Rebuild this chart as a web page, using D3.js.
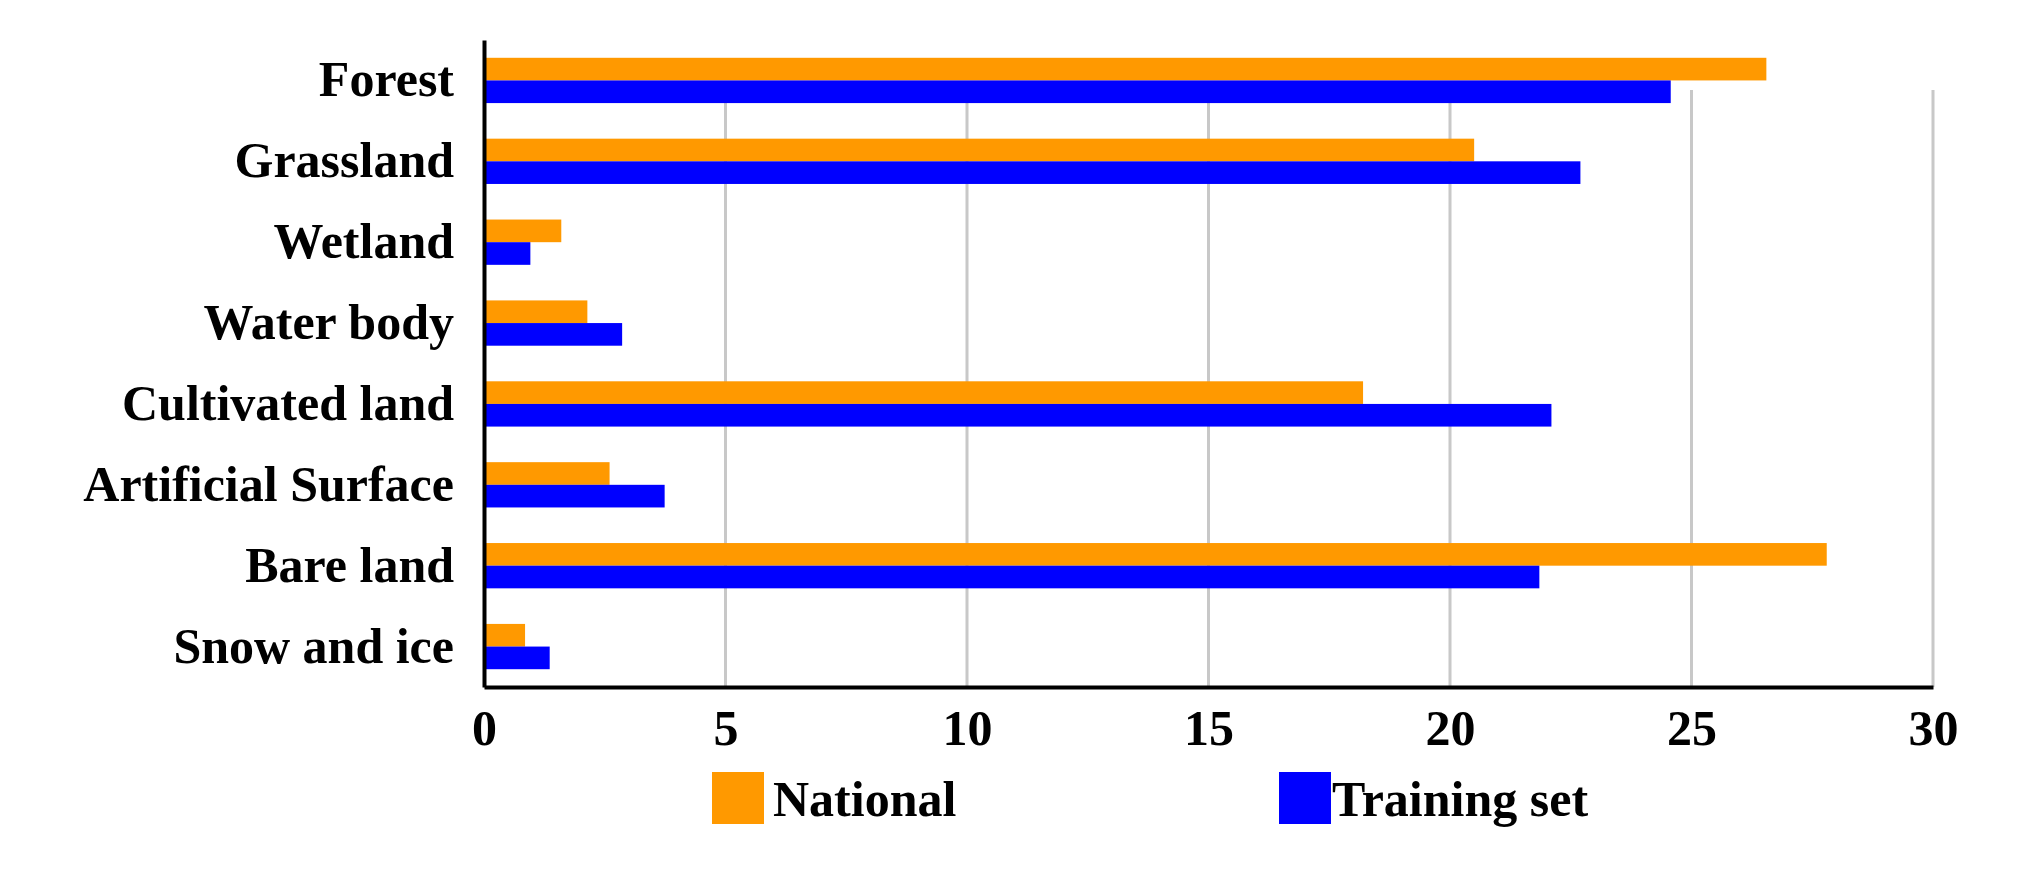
<!DOCTYPE html>
<html><head><meta charset="utf-8">
<script src="https://cdn.jsdelivr.net/npm/d3@7"></script>
<style>body{margin:0;background:#fff}</style></head>
<body><svg id="c" width="2024" height="881"></svg>
<script>
const categories = ["Forest","Grassland","Wetland","Water body","Cultivated land","Artificial Surface","Bare land","Snow and ice"];
const national = [26.55,20.5,1.6,2.14,18.2,2.6,27.8,0.85];
const training = [24.57,22.7,0.96,2.86,22.1,3.74,21.85,1.36];
const seriesNames = ["National","Training set"];
const colors = ["#ff9900","#0000ff"];
const xTicks = [0,5,10,15,20,25,30];

const svg = d3.select("#c");
const L=484,R=1933,T=40,B=687;
const font = "'Liberation Serif','Times New Roman',serif";
const x = d3.scaleLinear().domain([0,30]).range([L,R]);
const y = d3.scaleBand().domain(categories).range([T,B]).paddingInner(0.44).paddingOuter(0.22);
const sub = d3.scaleBand().domain(seriesNames).range([0,y.bandwidth()]);

svg.append("g").selectAll("line").data(xTicks.slice(1)).join("line")
 .attr("x1",d=>x(d)).attr("x2",d=>x(d)).attr("y1",T+50).attr("y2",B)
 .attr("stroke","#c8c8c8").attr("stroke-width",3);
svg.selectAll("line").filter(d=>d===30).attr("y1",T+50);
[national,training].forEach((vals,i)=>{
  svg.append("g").selectAll("rect").data(vals).join("rect")
   .attr("x",x(0)).attr("y",(d,j)=>y(categories[j])+sub(seriesNames[i]))
   .attr("width",d=>x(d)-x(0)).attr("height",sub.bandwidth())
   .attr("fill",colors[i]);
});
const ya = svg.append("g").attr("transform",`translate(${L},0)`)
 .call(d3.axisLeft(y).tickSize(0).tickPadding(30));
ya.select(".domain").attr("stroke","#000").attr("stroke-width",4);
ya.selectAll("text").attr("font-family",font).attr("font-weight","bold").attr("font-size",50).attr("fill","#000");
const xa = svg.append("g").attr("transform",`translate(0,${B})`)
 .call(d3.axisBottom(x).tickValues(xTicks).tickSize(0).tickPadding(22));
xa.select(".domain").attr("stroke","#000").attr("stroke-width",4);
xa.selectAll("text").attr("font-family",font).attr("font-weight","bold").attr("font-size",50).attr("fill","#000");

const lg=[[712,773],[1279,1332]];
seriesNames.forEach((n,i)=>{
  svg.append("rect").attr("x",lg[i][0]).attr("y",772).attr("width",52).attr("height",52).attr("fill",colors[i]);
  svg.append("text").attr("x",lg[i][1]).attr("y",816).text(n)
   .attr("font-family",font).attr("font-weight","bold").attr("font-size",50);
});
</script></body></html>
